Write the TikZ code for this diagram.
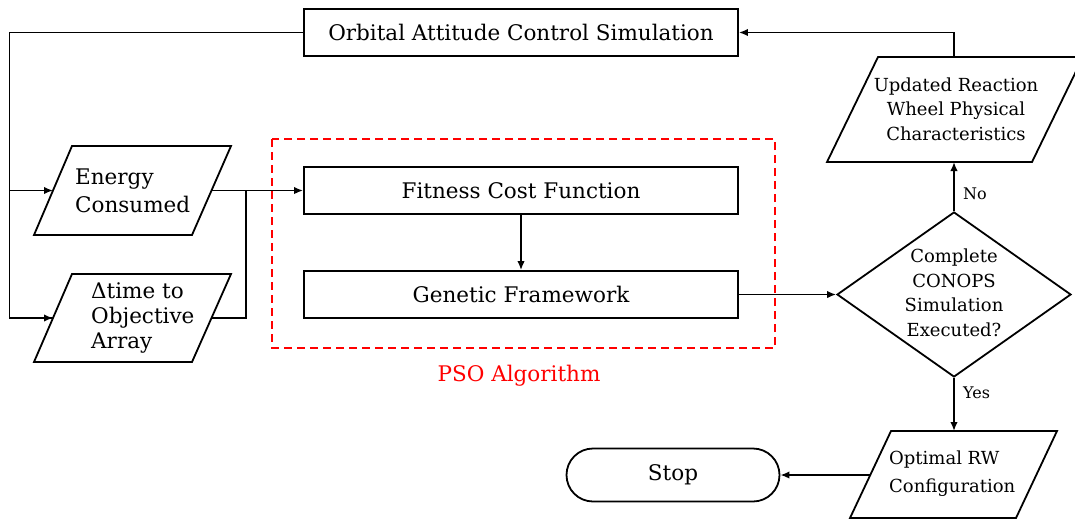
\documentclass[tikz,border=0pt]{standalone}
\usepackage{fontspec}
\setmainfont{DejaVu Serif}
\usetikzlibrary{arrows.meta,shapes.geometric,shapes.misc}
\newcommand{\bigsz}{\fontsize{21.5}{28}\selectfont}
\newcommand{\bigtightsz}{\fontsize{21.5}{25}\selectfont}
\newcommand{\midsz}{\fontsize{18}{24.5}\selectfont}
\newcommand{\midloosesz}{\fontsize{18}{28}\selectfont}
\newcommand{\smallsz}{\fontsize{16}{18}\selectfont}
\begin{document}
\begin{tikzpicture}[x=1pt,y=-1pt,
  box/.style={draw, line width=1.8pt, minimum width=434pt, minimum height=47pt, inner sep=0pt, font=\bigsz},
  iobox/.style={draw, line width=1.8pt, line join=miter},
  flow/.style={line width=1.7pt, -{Latex[length=9pt,width=7.5pt]}},
  plain/.style={line width=1.7pt},
  lbl/.style={inner sep=0pt, align=left}]
\useasboundingbox (0,0) rectangle (1075,520);

% process boxes
\node[box] (oacs) at (521,32.5) {Orbital Attitude Control Simulation};
\node[box] (fit) at (521,190.5) {Fitness Cost Function};
\node[box] (gen) at (521,294.5) {Genetic Framework};

% PSO group frame
\draw[red, line width=1.6pt, dash pattern=on 8pt off 5pt] (272,139) rectangle (775,348);
\node[red, font=\bigsz] (pso) at (519,376) {PSO Algorithm};

% decision
\node[diamond, draw, line width=1.8pt, minimum width=234pt, minimum height=165pt, inner sep=0pt] (dec) at (954,294.5) {};
\node[font=\midsz, align=center, inner sep=0pt] (dectext) at (954,293) {Complete\\CONOPS\\Simulation\\Executed?};

% terminator
\node[rounded rectangle, draw, line width=1.8pt, minimum width=213pt, minimum height=53pt, inner sep=0pt, font=\bigsz] (stop) at (673,475) {Stop};

% input/output parallelograms
\draw[iobox] (72,146) -- (231,146) -- (192,235) -- (34,235) -- cycle;
\coordinate (eIn) at (53,190.5);
\coordinate (eOut) at (211.5,190.5);
\node[lbl, font=\bigsz, anchor=west] (etext) at (75,191) {Energy\\Consumed};

\draw[iobox] (72,274) -- (231,274) -- (192,362) -- (34,362) -- cycle;
\coordinate (tIn) at (53,318);
\coordinate (tOut) at (211.5,318);
\node[lbl, font=\bigtightsz, anchor=west] (ttext) at (91,318) {Δtime to\\Objective\\Array};

\draw[iobox] (878,57) -- (1083,57) -- (1032,162) -- (827,162) -- cycle;
\coordinate (uTop) at (954,57);
\coordinate (uBot) at (954,162);
\node[font=\midsz, align=center, inner sep=0pt] (utext) at (956,109) {Updated Reaction\\Wheel Physical\\Characteristics};

\draw[iobox] (891,431) -- (1057,431) -- (1016,518) -- (850,518) -- cycle;
\coordinate (oTop) at (954,431);
\coordinate (oOut) at (869.5,475);
\node[lbl, font=\midloosesz, anchor=west] (otext) at (889,474) {Optimal RW\\Configuration};

% routing points
\coordinate (leftBus) at (9.5,32.5);
\coordinate (joinTop) at (246,190.5);

% connectors
\draw[plain] (oacs.west) -- (leftBus) |- (tIn);
\draw[flow] (leftBus |- tIn) -- (tIn);
\draw[flow] (leftBus |- eIn) -- (eIn);
\draw[flow] (eOut) -- (fit.west);
\draw[plain] (tOut) -| (joinTop);
\draw[flow] (fit.south) -- (gen.north);
\draw[flow] (gen.east) -- (dec.west);
\draw[flow] (dec.north) -- (uBot) node[pos=0.35, right=5pt, font=\smallsz] {No};
\draw[flow] (uTop) |- (oacs.east);
\draw[flow] (dec.south) -- (oTop) node[pos=0.28, right=5pt, font=\smallsz] {Yes};
\draw[flow] (oOut) -- (stop.east);
\end{tikzpicture}
\end{document}
